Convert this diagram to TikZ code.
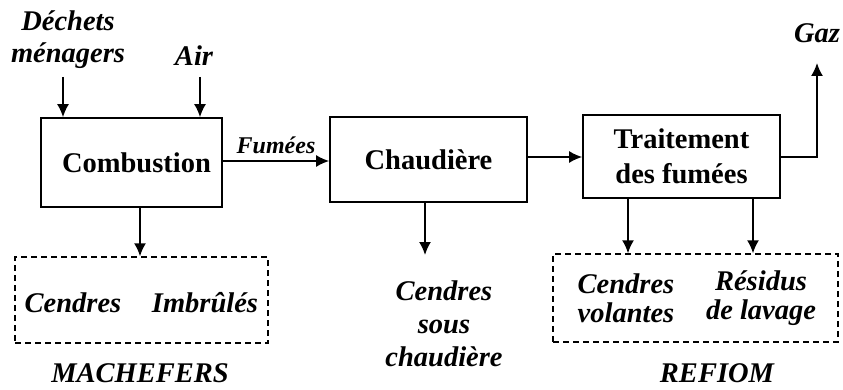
\documentclass[tikz,border=0pt]{standalone}
\usepackage{fontspec}
\setmainfont{Liberation Serif}
\usetikzlibrary{arrows.meta}
\begin{document}
\begin{tikzpicture}[x=1pt,y=-1pt,
  procbox/.style={draw,line width=1.7pt,inner sep=0pt,font=\fontsize{28.5}{35}\selectfont\bfseries,align=center},
  groupbox/.style={draw,line width=1.4pt,dash pattern=on 6pt off 4pt,inner sep=0pt},
  lbl/.style={inner sep=0pt,font=\fontsize{28.5}{33}\selectfont\bfseries\itshape,align=center},
  flow/.style={line width=1.7pt,-{Latex[length=13pt,width=12pt]}}]
\useasboundingbox (0,0) rectangle (843,390);
% process boxes
\node[procbox,minimum width=181pt,minimum height=89pt] (comb) at (131.5,162.5) {\hspace*{10pt}Combustion};
\node[procbox,minimum width=197pt,minimum height=85pt] (chau) at (428.5,159.5) {Chaudière};
\node[procbox,minimum width=197pt,minimum height=83pt] (trait) at (681.5,156.5) {Traitement\\des fumées};
% dashed group boxes
\node[groupbox,minimum width=253pt,minimum height=86pt] (mach) at (141.5,300) {};
\node[groupbox,minimum width=285pt,minimum height=88pt] (refiom) at (695.5,298) {};
% input labels
\node[lbl,font=\fontsize{28.5}{32}\selectfont\bfseries\itshape] (dech) at (68,40) {Déchets\\ménagers};
\node[lbl] (air) at (194,56) {Air};
\coordinate (dechs) at (63,77);
\coordinate (airs) at (200,77);
\draw[flow] (dechs) -- (comb.north -| dechs);
\draw[flow] (airs) -- (comb.north -| airs);
% fumées
\draw[flow] (comb.east |- 0,161) -- node[lbl,font=\fontsize{24}{28}\selectfont\bfseries\itshape,above=6pt] (fum) {Fumées} (chau.west |- 0,161);
\draw[flow] (chau.east |- 0,157) -- (trait.west |- 0,157);
% gaz
\node[lbl] (gaz) at (817,33) {Gaz};
\coordinate (gazt) at (817,63);
\draw[flow] (trait.east |- 0,157) -| (gazt);
% outputs
\draw[flow] (comb.south -| 140,0) -- (mach.north -| 140,0);
\node[lbl] (cend1) at (73,303) {Cendres};
\node[lbl] (imb) at (205,303) {Imbrûlés};
\node[lbl] (machl) at (140,373) {MACHEFERS};
\coordinate (chaus) at (425,255);
\draw[flow] (chau.south -| chaus) -- (chaus);
\node[lbl] (csc) at (444,324) {Cendres\\sous\\chaudière};
\draw[flow] (trait.south -| 628,0) -- (refiom.north -| 628,0);
\draw[flow] (trait.south -| 753,0) -- (refiom.north -| 753,0);
\node[lbl,font=\fontsize{28.5}{29}\selectfont\bfseries\itshape] (cvol) at (626,298) {Cendres\\volantes};
\node[lbl,font=\fontsize{28.5}{29}\selectfont\bfseries\itshape] (res) at (761,298) {Résidus\\de lavage};
\node[lbl] (refl) at (717,373) {REFIOM};
\end{tikzpicture}
\end{document}
